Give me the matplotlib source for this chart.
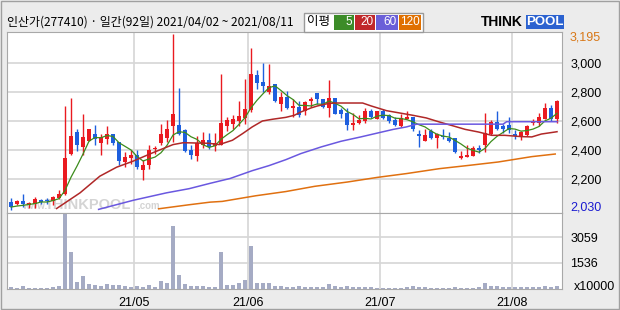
import numpy as np
import matplotlib
matplotlib.use('Agg')
import matplotlib.pyplot as plt
from matplotlib.patches import Rectangle

# daily candles, 2021/04/02 ~ 2021/08/11 (92 trading days)
opens = [2043, 2029, 2048, 2025, 2029, 2055, 2059, 2050, 2073, 2101,
         2377, 2526, 2423, 2466, 2510, 2453, 2480, 2512, 2457, 2319,
         2347, 2365, 2266, 2296, 2406, 2450, 2485, 2565, 2572, 2542,
         2404, 2361, 2434, 2469, 2427, 2439, 2565, 2584, 2602, 2625,
         2680, 2917, 2871, 2802, 2855, 2722, 2768, 2692, 2696, 2673,
         2740, 2795, 2756, 2694, 2761, 2680, 2657, 2577, 2590, 2600,
         2671, 2618, 2671, 2641, 2611, 2568, 2614, 2630, 2515, 2466,
         2533, 2487, 2496, 2485, 2485, 2349, 2356, 2361, 2416, 2434,
         2512, 2595, 2568, 2572, 2512, 2499, 2503, 2588, 2588, 2618,
         2692, 2618]
highs = [2073, 2059, 2096, 2043, 2078, 2066, 2071, 2082, 2124, 2706,
         2761, 2544, 2653, 2549, 2572, 2512, 2567, 2515, 2460, 2388,
         2400, 2400, 2331, 2434, 2427, 2584, 2607, 3205, 2830, 2545,
         2434, 2499, 2526, 2519, 2521, 2926, 2630, 2641, 2738, 2890,
         3108, 2952, 3000, 2998, 2860, 2802, 2807, 2756, 2738, 2738,
         2768, 2795, 2756, 2885, 2761, 2692, 2692, 2657, 2641, 2692,
         2687, 2671, 2682, 2653, 2630, 2648, 2669, 2630, 2538, 2549,
         2544, 2519, 2544, 2526, 2485, 2393, 2434, 2430, 2434, 2657,
         2607, 2671, 2584, 2630, 2538, 2531, 2577, 2614, 2655, 2726,
         2710, 2745]
lows = [1986, 2020, 2011, 2004, 2002, 2032, 2032, 2020, 2066, 2089,
        2370, 2393, 2365, 2462, 2434, 2370, 2446, 2434, 2296, 2285,
        2308, 2273, 2197, 2273, 2377, 2434, 2457, 2457, 2503, 2388,
        2342, 2328, 2416, 2411, 2393, 2434, 2533, 2549, 2567, 2584,
        2664, 2825, 2802, 2791, 2733, 2669, 2687, 2630, 2630, 2646,
        2699, 2722, 2692, 2630, 2653, 2623, 2542, 2542, 2584, 2590,
        2623, 2614, 2614, 2591, 2565, 2561, 2614, 2533, 2423, 2462,
        2480, 2416, 2476, 2457, 2381, 2342, 2351, 2361, 2384, 2388,
        2508, 2538, 2521, 2521, 2476, 2469, 2499, 2577, 2565, 2614,
        2600, 2591]
closes = [2011, 2050, 2027, 2036, 2061, 2043, 2048, 2075, 2101, 2347,
          2499, 2434, 2489, 2544, 2476, 2489, 2512, 2453, 2328, 2354,
          2365, 2287, 2296, 2400, 2416, 2515, 2544, 2650, 2515, 2393,
          2365, 2450, 2469, 2423, 2450, 2588, 2607, 2614, 2634, 2683,
          2926, 2867, 2841, 2844, 2740, 2768, 2692, 2706, 2646, 2733,
          2752, 2756, 2696, 2761, 2653, 2653, 2577, 2590, 2611, 2671,
          2630, 2671, 2625, 2600, 2577, 2623, 2630, 2549, 2499, 2503,
          2485, 2515, 2489, 2464, 2388, 2361, 2367, 2416, 2402, 2519,
          2595, 2549, 2549, 2538, 2499, 2526, 2568, 2600, 2627, 2692,
          2618, 2738]
# volume, x10000 shares
volume = [60, 50, 120, 50, 50, 50, 50, 60, 120, 4490,
          2210, 370, 740, 250, 190, 145, 250, 185, 185, 145,
          80, 120, 80, 185, 60, 430, 330, 3750, 800, 250,
          125, 125, 125, 60, 60, 2210, 185, 185, 310, 490,
          2520, 330, 350, 310, 145, 145, 60, 60, 125, 60,
          60, 80, 60, 250, 125, 60, 125, 60, 60, 60,
          60, 50, 50, 50, 50, 50, 60, 125, 60, 60,
          50, 50, 50, 50, 60, 50, 50, 50, 60, 330,
          145, 125, 80, 60, 60, 60, 60, 60, 80, 125,
          60, 125]

# moving averages as drawn
ma5 = [2008, 2015, 2020, 2026, 2032, 2043, 2043, 2053, 2066, 2123,
       2214, 2291, 2374, 2463, 2488, 2486, 2502, 2495, 2452, 2427,
       2402, 2357, 2326, 2340, 2353, 2383, 2434, 2505, 2528, 2523,
       2493, 2475, 2438, 2420, 2431, 2476, 2507, 2536, 2579, 2625,
       2693, 2745, 2790, 2832, 2844, 2812, 2777, 2750, 2710, 2709,
       2706, 2719, 2717, 2740, 2724, 2704, 2668, 2647, 2617, 2620,
       2616, 2635, 2642, 2639, 2621, 2619, 2611, 2596, 2576, 2561,
       2533, 2510, 2498, 2491, 2468, 2443, 2414, 2399, 2387, 2413,
       2460, 2496, 2523, 2550, 2546, 2532, 2536, 2546, 2564, 2603,
       2621, 2655]
ma20_x = [7.6, 11.5, 14.8, 17.6, 20.3, 23.7, 27, 28.7, 33, 34.7, 36.9, 38.6,
          40.2, 41.9, 43.6, 45.8, 47.2, 48.3, 50, 51.1, 52.8, 54, 58.6, 60,
          61.1, 62.6, 64.8, 67, 69.2, 71.4, 73.7, 75.7, 77.9, 80.1, 82.3,
          85.1, 86.8, 88.4, 90.7, 91]
ma20_y = [1998, 2106, 2221, 2283, 2324, 2384, 2439, 2452, 2448, 2439, 2469, 2515,
          2561, 2602, 2614, 2627, 2641, 2664, 2692, 2706, 2722, 2726, 2726, 2706,
          2692, 2673, 2657, 2641, 2623, 2595, 2568, 2544, 2526, 2503, 2503,
          2494, 2492, 2512, 2526, 2528]
ma60_x = [14.6, 20.4, 25.9, 29.7, 33.2, 36.5, 40.2, 43, 45.8, 48.3, 51.7, 55,
          58.3, 61.1, 63.7, 65.9, 67.6, 82, 82.6, 91]
ma60_y = [1992, 2055, 2106, 2135, 2172, 2205, 2259, 2294, 2335, 2377, 2423, 2462,
          2492, 2519, 2544, 2561, 2580, 2580, 2597, 2597]
ma120_x = [24.6, 29.7, 33.2, 35.2, 40.8, 45.8, 50.6, 56.1, 61.1, 65.9, 71.4,
           76.4, 81.2, 86.8, 90.7]
ma120_y = [1996, 2024, 2042, 2047, 2086, 2115, 2151, 2181, 2213, 2239, 2273,
           2296, 2319, 2356, 2374]

price_ticks = [2200, 2400, 2600, 2800, 3000]
vol_ticks = [1536, 3059]
month_idx = [21, 40, 62, 84]
month_labels = ['21/05', '21/06', '21/07', '21/08']
price_max, price_min = 3195, 2030

W, H = 620, 310
def fx(x):
    return x / W
def fy(y):
    return 1 - y / H

UP, DOWN = '#ea1a20', '#1e5fde'
GRID = '#d6d6d6'
KR = ['Noto Sans CJK KR', 'DejaVu Sans']

fig = plt.figure(figsize=(6.2, 3.1), dpi=100, facecolor='#ececec')
ax = fig.add_axes([fx(7), fy(213), 555 / W, 181 / H], facecolor='white')
axv = fig.add_axes([fx(7), fy(288.5), 555 / W, 75.5 / H], facecolor='white')

n = len(closes)
x = np.arange(n)
o = np.array(opens); c = np.array(closes)
cols = [UP if cc >= oo else DOWN for oo, cc in zip(o, c)]

for a in (ax, axv):
    for m in month_idx:
        a.axvline(m - 0.45, color=GRID, lw=1.2, zorder=0)
    for s in a.spines.values():
        s.set_color('#a8a8a8')
    a.set_xlim(-0.67, 91.83)
    a.tick_params(length=0)

for t in price_ticks:
    ax.axhline(t, color=GRID, lw=1.2, zorder=0)
for t in vol_ticks:
    axv.axhline(t, color=GRID, lw=1.2, zorder=0)

# watermark
wm = dict(transform=fig.transFigure, color='#d4d4d4', va='baseline',
          zorder=0.5, fontweight='bold', family='Liberation Sans')
ax.text(fx(22), fy(209), 'www.', fontsize=7, **wm)
ax.text(fx(45), fy(209), 'THINKPOOL', fontsize=10.5, **wm)
ax.text(fx(137), fy(209), '.com', fontsize=7, **wm)

# candles
ax.vlines(x, lows, highs, colors=cols, lw=1, zorder=2)
body = np.maximum(np.abs(c - o), 9)
ax.bar(x, body, bottom=np.minimum(o, c), width=0.8, color=cols, zorder=3)

# moving averages
ax.plot(x, ma5, color='#3c8c1c', lw=0.9, zorder=4)
ax.plot(ma20_x, ma20_y, color='#b02828', lw=1.1, zorder=4)
ax.plot(ma60_x, ma60_y, color='#6a58e0', lw=1.1, zorder=4)
ax.plot(ma120_x, ma120_y, color='#e07010', lw=1.1, zorder=4)

ax.set_ylim(1967, 3216)
ax.yaxis.tick_right()
ax.set_yticks(price_ticks)
ax.set_yticklabels([f'{t:,}' for t in price_ticks], fontsize=9,
                   family='Liberation Sans')
ax.tick_params(axis='y', pad=6)
ax.set_xticks([])
ax.text(1 + 8 / 555, 0.967, f'{price_max:,}', transform=ax.transAxes,
        fontsize=9, family='Liberation Sans', color='#d87818', va='center')
ax.text(1 + 8 / 555, 0.033, f'{price_min:,}', transform=ax.transAxes,
        fontsize=9, family='Liberation Sans', color='#1a1ad0', va='center')

# volume
axv.bar(x, volume, width=0.7, color='#a5abc4', zorder=2)
axv.set_ylim(0, 4511)
axv.yaxis.tick_right()
axv.set_yticks(vol_ticks)
axv.set_yticklabels([str(t) for t in vol_ticks], fontsize=9,
                    family='Liberation Sans')
axv.tick_params(axis='y', pad=6)
axv.set_xticks([m - 0.45 for m in month_idx])
axv.set_xticklabels(month_labels, fontsize=9, family='Liberation Sans')
axv.tick_params(axis='x', pad=6)
fig.text(fx(574), fy(287), 'x10000', fontsize=9, family='Liberation Sans',
         va='center', ha='left')

# title
fig.text(fx(7), fy(22.5), '인산가(277410) · 일간(92일) 2021/04/02 ~ 2021/08/11',
         fontsize=8.6, family=KR, va='center', ha='left')

# legend box
fig.patches.append(Rectangle((fx(303.5), fy(31.5)), 119.5 / W, 19 / H,
                             transform=fig.transFigure, facecolor='white',
                             edgecolor='#9a9a9a', lw=1))
fig.text(fx(318), fy(22), '이평', fontsize=9, family=KR, va='center',
         ha='center')
legend = [('5', '#3c8c28', 334, 354), ('20', '#c0282a', 355, 375),
          ('60', '#6a5fd8', 376, 398), ('120', '#e07000', 399, 421)]
for lab, col, x0, x1 in legend:
    fig.patches.append(Rectangle((fx(x0), fy(29.5)), (x1 - x0) / W, 14.5 / H,
                                 transform=fig.transFigure, facecolor=col,
                                 edgecolor='none'))
    fig.text(fx(x1 - 1.5), fy(22.3), lab, fontsize=8.5, color='white',
             family='Liberation Sans', va='center', ha='right')

# logo
fig.text(fx(481), fy(22), 'THINK', fontsize=10, fontweight='bold',
         family='Liberation Sans', va='center', ha='left')
fig.patches.append(Rectangle((fx(526), fy(29)), 38 / W, 14 / H,
                             transform=fig.transFigure, facecolor='#2b62d0',
                             edgecolor='none'))
fig.text(fx(545), fy(22), 'POOL', fontsize=9.5, fontweight='bold',
         color='white', family='Liberation Sans', va='center', ha='center')

# outer frame
fig.patches.append(Rectangle((fx(1), fy(308.5)), 617.5 / W, 307.5 / H,
                             transform=fig.transFigure, facecolor='none',
                             edgecolor='#a0a0a0', lw=1))

fig.savefig('out.png', dpi=100, facecolor=fig.get_facecolor())
